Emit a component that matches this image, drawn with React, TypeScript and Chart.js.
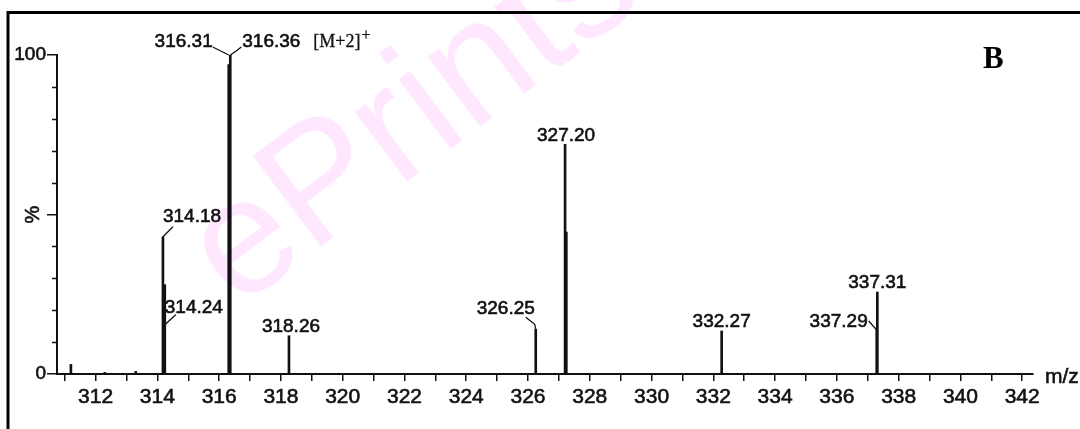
import { useEffect, useRef } from "react";
import { Chart, registerables } from "chart.js";

Chart.register(...registerables);

// ---- data ----
const mzValues = [311.2, 312.3, 313.3, 314.18, 314.24, 316.31, 316.36, 318.26, 326.25, 327.2, 327.24, 332.27, 337.29, 337.31];
const intensities = [3, 0.5, 0.8, 43, 28, 97, 100, 12, 14, 72, 44.5, 13.5, 13.8, 25.7];
const xMin = 310.75;
const xMax = 342.35;
const yTickLabels = ["0", "100"];
const yAxisTitle = "%";
const xAxisTitle = "m/z";
const panelLetter = "B";
const ionLabel = "[M+2]";
const ionCharge = "+";

// ---- label layout (offsets relative to the peak top, in px) ----
type Lbl = { mz: number; text: string; align: CanvasTextAlign; dx: number; dy: number; anchorY?: number; leader?: number[][] };
const labelLayout: Lbl[] = [
  { mz: 314.18, text: "314.18", align: "left", dx: 0, dy: -15, leader: [[0, 0], [10, -10]] },
  { mz: 314.24, text: "314.24", align: "left", dx: 0, dy: 28, leader: [[0, 40], [11, 30]] },
  { mz: 316.31, text: "316.31", align: "right", dx: -16, dy: -8, anchorY: 100, leader: [[-16, -8], [-6, -3], [0, 0]] },
  { mz: 316.36, text: "316.36", align: "left", dx: 12, dy: -8, leader: [[0, 0], [6, -4], [11, -8]] },
  { mz: 318.26, text: "318.26", align: "center", dx: 2, dy: -4 },
  { mz: 326.25, text: "326.25", align: "center", dx: -30, dy: -15, leader: [[-10, -12], [-1, -5], [0, 0]] },
  { mz: 327.2, text: "327.20", align: "center", dx: 1, dy: -3 },
  { mz: 332.27, text: "332.27", align: "center", dx: 0, dy: -4 },
  { mz: 337.29, text: "337.29", align: "right", dx: -9, dy: -3, leader: [[-8, -9], [0, 0]] },
  { mz: 337.31, text: "337.31", align: "center", dx: 0, dy: -4 },
];

const INK = "#111";
const SANS = '"Liberation Sans", Arial, Helvetica, sans-serif';
const SERIF = '"Liberation Serif", "Times New Roman", serif';

function heavyText(ctx: CanvasRenderingContext2D, t: string, x: number, y: number, w = 0.6) {
  ctx.fillText(t, x, y);
  ctx.lineWidth = w;
  ctx.strokeText(t, x, y);
}

const decorPlugin = {
  id: "decor",
  beforeDraw(chart: any) {
    const ctx = chart.ctx as CanvasRenderingContext2D;
    ctx.save();
    ctx.fillStyle = "#fff";
    ctx.fillRect(0, 0, chart.width, chart.height);
    // watermark
    ctx.save();
    ctx.translate(237, 310);
    ctx.rotate((-37 * Math.PI) / 180);
    ctx.font = `165px ${SANS}`;
    ctx.fillStyle = "rgba(255, 150, 255, 0.22)";
    ctx.textAlign = "left";
    ctx.textBaseline = "alphabetic";
    ctx.fillText("ePrintsSoton", 0, 0);
    ctx.restore();
    // frame
    ctx.strokeStyle = "#000";
    ctx.lineWidth = 3;
    ctx.beginPath();
    ctx.moveTo(8, chart.height + 5);
    ctx.lineTo(8, 12.5);
    ctx.lineTo(chart.width + 5, 12.5);
    ctx.stroke();
    ctx.restore();
  },
  afterDraw(chart: any) {
    const ctx = chart.ctx as CanvasRenderingContext2D;
    const xs = chart.scales.x;
    const ys = chart.scales.y;
    const area = chart.chartArea;
    ctx.save();
    // minor y ticks
    ctx.strokeStyle = INK;
    ctx.lineWidth = 1.5;
    for (let v = 10; v < 100; v += 10) {
      if (v === 50) continue;
      const y = Math.round(ys.getPixelForValue(v)) + 0.5;
      ctx.beginPath();
      ctx.moveTo(area.left - 5, y);
      ctx.lineTo(area.left, y);
      ctx.stroke();
    }
    ctx.fillStyle = INK;
    ctx.strokeStyle = INK;
    // y title "%"
    ctx.save();
    ctx.translate(area.left - 24, ys.getPixelForValue(50));
    ctx.rotate(-Math.PI / 2);
    ctx.font = `20px ${SANS}`;
    ctx.textAlign = "center";
    ctx.textBaseline = "middle";
    heavyText(ctx, yAxisTitle, 0, 0);
    ctx.restore();
    // x title
    ctx.font = `21px ${SANS}`;
    ctx.textAlign = "left";
    ctx.textBaseline = "alphabetic";
    heavyText(ctx, xAxisTitle, area.right + 12, area.bottom + 9);
    // panel letter
    ctx.font = `bold 31px ${SERIF}`;
    ctx.fillStyle = "#000";
    ctx.fillText(panelLetter, 983, 68);
    // peak labels
    ctx.font = `19px ${SANS}`;
    ctx.fillStyle = INK;
    for (const l of labelLayout) {
      const i = mzValues.indexOf(l.mz);
      const px = xs.getPixelForValue(l.mz);
      const py = ys.getPixelForValue(l.anchorY ?? intensities[i]);
      ctx.textAlign = l.align;
      heavyText(ctx, l.text, px + l.dx, py + l.dy);
      if (l.leader) {
        ctx.lineWidth = 1.3;
        ctx.beginPath();
        l.leader.forEach((p, k) => {
          if (k === 0) ctx.moveTo(px + p[0], py + p[1]);
          else ctx.lineTo(px + p[0], py + p[1]);
        });
        ctx.stroke();
      }
    }
    // ion label next to 316.36
    const bx = xs.getPixelForValue(316.36) + 83;
    const by = ys.getPixelForValue(100) - 8;
    ctx.font = `18px ${SERIF}`;
    ctx.textAlign = "left";
    heavyText(ctx, ionLabel, bx, by, 0.3);
    const w = ctx.measureText(ionLabel).width;
    ctx.font = `16px ${SERIF}`;
    heavyText(ctx, ionCharge, bx + w + 1, by - 7, 0.3);
    ctx.restore();
  },
};

export default function App() {
  const ref = useRef<HTMLCanvasElement | null>(null);
  useEffect(() => {
    if (!ref.current) return;
    const chart = new Chart(ref.current, {
      type: "bar",
      data: {
        datasets: [
          {
            data: mzValues.map((x, i) => ({ x, y: intensities[i] })),
            backgroundColor: INK,
            borderWidth: 0,
            barThickness: 2,
          } as any,
        ],
      },
      options: {
        animation: false,
        responsive: false,
        devicePixelRatio: 1,
        layout: { padding: { left: 0, top: 55, right: 47, bottom: 0 } },
        plugins: { legend: { display: false }, tooltip: { enabled: false } },
        scales: {
          x: {
            type: "linear",
            min: xMin,
            max: xMax,
            offset: false,
            afterFit: (s: any) => {
              s.height = 55;
            },
            border: { display: true, color: INK, width: 2 },
            grid: { offset: false, drawOnChartArea: false, drawTicks: true, tickLength: 7, color: INK, lineWidth: 1.5 },
            ticks: {
              stepSize: 1,
              includeBounds: false,
              autoSkip: false,
              maxRotation: 0,
              padding: 4,
              color: INK,
              textStrokeColor: INK,
              textStrokeWidth: 0.6,
              font: { family: SANS, size: 21 },
              callback: (v: any) => (Number(v) % 2 === 0 ? String(v) : ""),
            },
          } as any,
          y: {
            type: "linear",
            min: 0,
            max: 100,
            afterFit: (s: any) => {
              s.width = 57;
            },
            border: { display: true, color: INK, width: 2 },
            grid: { drawOnChartArea: false, drawTicks: true, tickLength: 10, color: INK, lineWidth: 1.5 },
            ticks: {
              stepSize: 50,
              padding: 1,
              color: INK,
              textStrokeColor: INK,
              textStrokeWidth: 0.6,
              font: { family: SANS, size: 19 },
              callback: (v: any) => (Number(v) === 0 ? yTickLabels[0] : Number(v) === 100 ? yTickLabels[1] : ""),
            },
          } as any,
        },
      },
      plugins: [decorPlugin],
    });
    return () => chart.destroy();
  }, []);
  return (
    <div style={{ position: "fixed", left: 0, top: 0, width: 1080, height: 429, background: "#fff" }}>
      <canvas ref={ref} width={1080} height={429} style={{ display: "block", width: 1080, height: 429 }} />
    </div>
  );
}
